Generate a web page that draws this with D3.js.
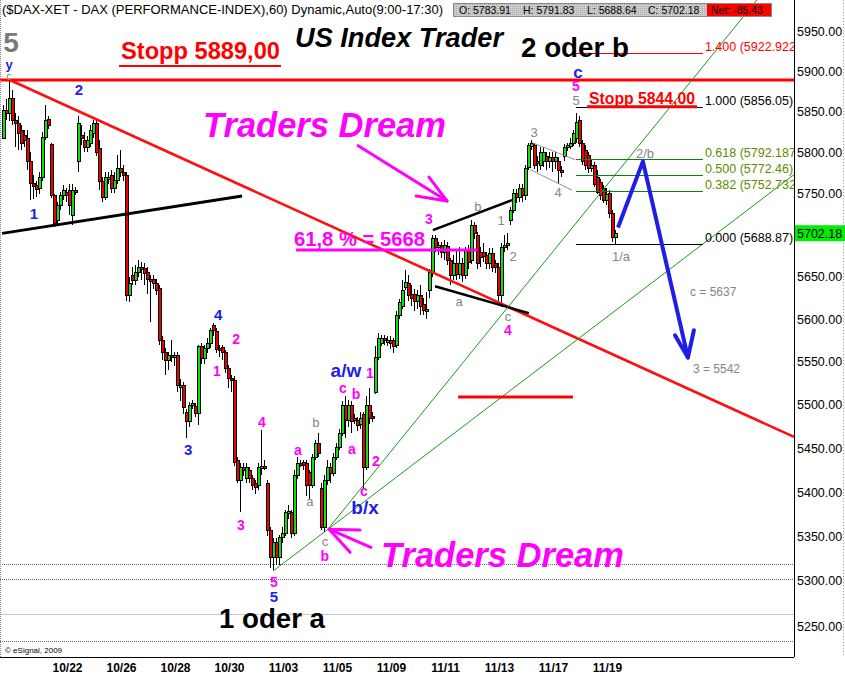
<!DOCTYPE html>
<html><head><meta charset="utf-8">
<script src="https://cdn.jsdelivr.net/npm/d3@7"></script>
<style>
html,body{margin:0;padding:0;background:#fff;}
svg{display:block;font-family:"Liberation Sans",Arial,sans-serif;}
</style></head><body>
<svg id="chart" width="845" height="675"></svg>
<script>
// ================= DATA =================
const headerText = "($DAX-XET - DAX (PERFORMANCE-INDEX),60) Dynamic,Auto(9:00-17:30)";
const quoteLabels = ["O: 5783.91", "H: 5791.83", "L: 5688.64", "C: 5702.18"];
const netLabel = "Net: -85.43";
const lastPrice = 5702.18;

const tradingDays = ["10/20","10/21","10/22","10/23","10/26","10/27","10/28","10/29","10/30",
  "11/02","11/03","11/04","11/05","11/06","11/09","11/10","11/11","11/12","11/13","11/16","11/17","11/18","11/19"];
const tickLabels = ["10/22","10/26","10/28","10/30","11/03","11/05","11/09","11/11","11/13","11/17","11/19"];
// 5700.00 is hidden behind the last-price marker in the reference
const priceTicks = [5950,5900,5850,5800,5750,5650,5600,5550,5500,5450,5400,5350,5300,5250];
const barsPerDay = 9;      // hourly bars 9:00-17:30
const firstBarOffset = 2;  // chart starts at the 3rd bar of 10/20

// hourly candles [open, high, low, close]
const bars = [
  // 10/20
  [5818,5858,5816,5852],[5852,5865,5840,5848],[5848,5889,5838,5867],[5867,5877,5833,5840],
  [5840,5848,5806,5836],[5836,5845,5803,5824],[5827,5833,5803,5812],
  // 10/21
  [5821,5827,5806,5815],[5818,5827,5779,5789],[5789,5800,5742,5763],[5763,5773,5744,5759],
  [5760,5765,5746,5755],[5757,5776,5750,5770],[5770,5825,5765,5819],[5819,5858,5815,5840],[5841,5845,5828,5833],
  // 10/22
  [5810,5812,5745,5748],[5748,5750,5710,5714],[5718,5740,5712,5736],[5736,5752,5730,5748],
  [5748,5760,5742,5754],[5752,5757,5740,5748],[5754,5761,5724,5736],[5724,5761,5712,5754],[5754,5758,5748,5752],
  // 10/23
  [5789,5845,5776,5836],[5821,5833,5809,5818],[5815,5825,5800,5806],[5806,5820,5800,5815],
  [5812,5833,5806,5827],[5824,5840,5818,5836],[5836,5842,5795,5800],[5805,5815,5754,5765],[5765,5770,5740,5746],
  // 10/26
  [5746,5776,5742,5770],[5768,5776,5762,5770],[5773,5779,5751,5757],[5757,5776,5751,5767],
  [5767,5797,5762,5781],[5781,5803,5770,5776],[5776,5785,5765,5773],[5773,5776,5622,5628],[5628,5650,5620,5643],
  // 10/27
  [5652,5662,5640,5646],[5646,5664,5640,5656],[5656,5670,5650,5662],[5662,5668,5646,5660],
  [5661,5667,5640,5655],[5656,5662,5630,5648],[5648,5652,5597,5646],[5648,5652,5636,5643],[5643,5648,5628,5634],
  // 10/28
  [5637,5640,5570,5575],[5575,5580,5552,5561],[5561,5566,5535,5552],[5552,5562,5540,5558],
  [5558,5575,5550,5557],[5557,5562,5545,5558],[5558,5562,5515,5523],[5521,5530,5505,5523],[5523,5527,5489,5497],
  // 10/29
  [5492,5495,5462,5481],[5481,5503,5475,5500],[5500,5506,5495,5502],[5499,5502,5486,5491],
  [5491,5570,5477,5568],[5568,5572,5548,5555],[5555,5570,5548,5566],[5566,5578,5560,5572],[5572,5590,5566,5587],
  // 10/30
  [5593,5596,5580,5587],[5586,5590,5560,5565],[5566,5570,5556,5564],[5567,5570,5552,5561],
  [5561,5564,5537,5543],[5543,5546,5520,5531],[5531,5535,5515,5529],[5529,5533,5430,5434],[5436,5440,5410,5414],
  // 11/02
  [5414,5433,5377,5429],[5429,5433,5418,5425],[5416,5433,5410,5429],[5425,5429,5410,5416],
  [5416,5420,5402,5408],[5410,5414,5398,5406],[5408,5433,5402,5428],[5428,5471,5420,5430],[5430,5436,5425,5429],
  // 11/03
  [5410,5414,5350,5357],[5357,5360,5315,5327],[5327,5348,5312,5344],[5344,5348,5318,5327],
  [5327,5352,5318,5349],[5349,5360,5343,5354],[5354,5380,5350,5377],[5376,5385,5370,5378],[5377,5380,5348,5354],
  // 11/04
  [5354,5425,5350,5420],[5420,5440,5415,5433],[5433,5436,5428,5432],[5434,5437,5425,5431],
  [5433,5436,5395,5408],[5423,5425,5392,5408],[5408,5443,5405,5440],[5440,5460,5436,5456],[5456,5468,5440,5445],
  // 11/05
  [5405,5410,5357,5360],[5360,5420,5355,5414],[5414,5436,5408,5428],[5429,5433,5410,5422],
  [5422,5445,5418,5440],[5440,5456,5436,5452],[5452,5472,5448,5468],[5468,5505,5464,5500],[5500,5510,5462,5483],
  // 11/06
  [5483,5506,5475,5500],[5500,5505,5468,5481],[5485,5490,5478,5483],[5483,5486,5470,5477],
  [5478,5492,5472,5485],[5489,5492,5405,5429],[5429,5510,5425,5500],[5500,5520,5478,5485],[5487,5492,5480,5485],
  // 11/09
  [5515,5568,5512,5556],[5556,5584,5552,5578],[5572,5582,5568,5578],[5578,5582,5570,5575],
  [5575,5580,5568,5576],[5576,5580,5565,5572],[5575,5578,5560,5568],[5570,5610,5566,5605],[5605,5624,5600,5620],
  // 11/10
  [5616,5646,5612,5634],[5638,5658,5634,5644],[5643,5652,5622,5628],[5630,5640,5616,5625],
  [5630,5636,5610,5622],[5622,5634,5612,5628],[5629,5640,5605,5615],[5618,5625,5605,5611],[5611,5632,5600,5612],
  // 11/11
  [5634,5660,5625,5656],[5656,5700,5650,5697],[5697,5700,5680,5686],[5686,5692,5676,5688],
  [5688,5692,5672,5680],[5680,5694,5670,5688],[5687,5692,5664,5670],[5670,5672,5640,5652],[5652,5676,5646,5666],
  // 11/12
  [5667,5682,5646,5654],[5654,5686,5648,5667],[5666,5672,5644,5652],[5652,5686,5648,5682],
  [5682,5688,5660,5668],[5670,5718,5665,5712],[5712,5716,5695,5702],[5700,5704,5660,5666],[5680,5686,5662,5674],
  // 11/13
  [5680,5690,5668,5675],[5676,5680,5660,5666],[5667,5684,5660,5679],[5678,5684,5656,5662],
  [5666,5670,5655,5662],[5662,5666,5622,5628],[5628,5690,5614,5686],[5686,5700,5680,5688],[5688,5702,5682,5690],
  // 11/16
  [5718,5734,5712,5730],[5730,5755,5726,5751],[5751,5755,5738,5746],[5746,5762,5740,5757],
  [5757,5761,5740,5748],[5748,5785,5742,5781],[5782,5812,5778,5809],[5808,5815,5803,5812],[5809,5812,5780,5785],
  // 11/17
  [5789,5795,5776,5788],[5785,5806,5778,5800],[5789,5806,5782,5800],[5795,5800,5778,5789],
  [5789,5800,5781,5794],[5794,5800,5776,5789],[5789,5800,5780,5794],[5789,5794,5762,5779],[5779,5783,5770,5778],
  // 11/18
  [5795,5810,5790,5806],[5806,5812,5802,5809],[5808,5818,5804,5812],[5812,5827,5808,5824],
  [5818,5848,5812,5837],[5840,5845,5806,5812],[5812,5815,5785,5789],[5803,5809,5779,5785],[5797,5800,5775,5781],
  // 11/19
  [5781,5792,5776,5785],[5785,5788,5758,5761],[5770,5779,5750,5752],[5764,5768,5742,5748],
  [5757,5760,5738,5742],[5742,5757,5736,5750],[5751,5754,5720,5726],[5726,5730,5692,5698],[5698,5706,5689,5702]
];

// horizontal reference levels (dotted / light)
const refLevels = [[5319,"dot"],[5302,"dot"],[5263,"light"],[5233,"dot"]];
const stopLevel = 5889;

// drawn lines: [bar, price] endpoints
const trendLines = [
  {pts:[[2.3,5889],[263.7,5463]], kind:"redTrend"},
  {pts:[[-0.3,5702],[79.7,5747]], kind:"blackThick"},
  {pts:[[143.3,5706],[169.7,5742]], kind:"black"},
  {pts:[[144,5639],[175.3,5607]], kind:"black"},
  {pts:[[90,5311],[263.7,5773]], kind:"green"},
  {pts:[[108.3,5358],[251.3,5989]], kind:"green"},
  {pts:[[176.3,5812],[190.7,5791]], kind:"gray"},
  {pts:[[175.7,5779],[189.7,5754]], kind:"gray"},
  {pts:[[151.7,5509],[190,5509]], kind:"redShort"},
  {pts:[[97.7,5682],[158,5682]], kind:"magentaLine"}
];
const arrows = [
  {path:[[118,5809],[148,5741]], head:[[137.7,5747],[142,5770]], kind:"magentaArrow"},
  {path:[[123,5337],[108.7,5358]], head:[[119,5357],[115.7,5332]], kind:"magentaArrow"},
  {path:[[205,5709],[213.3,5789],[228.3,5555]], head:[[224,5581],[230.3,5587]], kind:"blueArrow"}
];

// Fibonacci retracement
const fibLevels = [["1.400",5922.922],["1.000",5856.05],["0.618",5792.187],["0.500",5772.46],["0.382",5752.732],["0.000",5688.87]];
const fibSpan = [191, 233.3];

// Elliott wave labels [bar, price, text, style]
const waveLabels = [
  [2.7,5936,"5","grayBig"],[2,5909,"y","blueSmall"],[2,5894,"c","graySmall"],
  [10.3,5726,"1","blue"],[25.3,5877,"2","blue"],[61.7,5448,"3","blue"],[71.7,5606,"4","blue"],[90.3,5283,"5","blue"],
  [71.3,5539,"1","magenta"],[77.7,5577,"2","magenta"],[79.3,5363,"3","magenta"],[86.3,5480,"4","magenta"],[90.3,5299,"5","magenta"],
  [98.3,5448,"a","magenta"],[104.3,5480,"b","gray"],[102.3,5389,"a","gray"],[107.3,5344,"c","gray"],[107.3,5328,"b","magenta"],
  [114.3,5540,"a/w","blueBig"],[113.3,5519,"c","magenta"],[117.7,5513,"b","magenta"],[116.3,5449,"a","magenta"],
  [122.3,5537,"1","magenta"],[124.3,5435,"2","magenta"],[120.3,5401,"c","magenta"],[120.7,5383,"b/x","blueBig"],
  [142,5719,"3","magenta"],[158.3,5735,"b","gray"],[166,5718,"1","gray"],[170,5674,"2","gray"],
  [152,5621,"a","gray"],[168.3,5603,"c","gray"],[168.3,5587,"4","magenta"],
  [177,5824,"3","gray"],[185,5752,"4","gray"],
  [191.7,5899,"c","blueMid"],[191,5882,"5","magenta"],[191,5864,"5","gray"],
  [206,5675,"1/a","gray"],[214,5799,"2/b","gray"]
];
const targetLabels = [[229,5633,"c = 5637"],[230,5542,"3 = 5542"]];

// ================= DRAW =================
const W = 845, H = 675, plotRight = 794, plotBottom = 657;
const svg = d3.select("#chart");
const x = d3.scaleLinear().domain([0, 264]).range([3, 795]);
const y = d3.scaleLog().domain([5950, 5250]).range([31, 626]);

const defs = svg.append("defs");
defs.append("clipPath").attr("id","plotClip").append("rect").attr("x",0).attr("y",0).attr("width",plotRight).attr("height",plotBottom);
const pat = defs.append("pattern").attr("id","dots").attr("width",2).attr("height",2).attr("patternUnits","userSpaceOnUse");
pat.append("rect").attr("width",2).attr("height",2).attr("fill","#cdcdcd");
pat.append("rect").attr("width",1).attr("height",1).attr("fill","#a9a9a9");

svg.append("rect").attr("width",W).attr("height",H).attr("fill","#fff");

const plot = svg.append("g").attr("clip-path","url(#plotClip)");

// reference levels
plot.selectAll("line.ref").data(refLevels).join("line")
  .attr("x1",0).attr("x2",plotRight)
  .attr("y1",d=>Math.round(y(d[0]))+0.5).attr("y2",d=>Math.round(y(d[0]))+0.5)
  .attr("stroke",d=>d[1]==="light"?"#c8c8c8":"#666")
  .attr("stroke-dasharray",d=>d[1]==="light"?null:"1,1");

// left dotted edge
svg.append("line").attr("x1",0.5).attr("x2",0.5).attr("y1",0).attr("y2",plotBottom)
  .attr("stroke","#888").attr("stroke-dasharray","1,1");

// candles
const candle = plot.append("g").attr("shape-rendering","crispEdges")
  .selectAll("g").data(bars).join("g");
candle.append("line")
  .attr("x1",(d,i)=>x(i)+0.5).attr("x2",(d,i)=>x(i)+0.5)
  .attr("y1",d=>y(d[1])).attr("y2",d=>y(d[2]))
  .attr("stroke","#000").attr("stroke-width",1);
function bodyTop(d){return Math.round(y(Math.max(d[0],d[3])));}
function bodyH(d){return Math.max(2, Math.round(y(Math.min(d[0],d[3]))) - bodyTop(d));}
candle.append("rect")
  .attr("x",(d,i)=>x(i)-1).attr("y",bodyTop).attr("width",4).attr("height",d=>bodyH(d)+1)
  .attr("fill","#000");
candle.append("rect")
  .attr("x",(d,i)=>x(i)).attr("y",d=>bodyTop(d)+1).attr("width",2).attr("height",d=>Math.max(0,bodyH(d)-1))
  .attr("fill",d=>d[3]>=d[0]?"#10e010":"#ee0000");

// stop line
plot.append("line").attr("x1",0).attr("x2",plotRight)
  .attr("y1",y(stopLevel)).attr("y2",y(stopLevel)).attr("stroke","#ff0000").attr("stroke-width",3);

const lineStyle = {
  redTrend:{stroke:"#ff1010",w:2.6},
  blackThick:{stroke:"#000",w:3},
  black:{stroke:"#000",w:2.5},
  green:{stroke:"#1a9a1a",w:1},
  gray:{stroke:"#909090",w:1},
  redShort:{stroke:"#ff0000",w:3},
  magentaLine:{stroke:"#ff00ff",w:3},
  magentaArrow:{stroke:"#ff00ff",w:3},
  blueArrow:{stroke:"#1e1ee6",w:4}
};
const lineGen = d3.line().x(d=>x(d[0])).y(d=>y(d[1]));
plot.selectAll("path.trend").data(trendLines).join("path")
  .attr("d",d=>lineGen(d.pts)).attr("fill","none")
  .attr("stroke",d=>lineStyle[d.kind].stroke).attr("stroke-width",d=>lineStyle[d.kind].w);

// Fibonacci
const fibColor = r => r==="1.400" ? "#ff0000" : (r==="1.000"||r==="0.000") ? "#000" : "#0a820a";
const fibText = r => r==="1.400" ? "#ff0000" : (r==="1.000"||r==="0.000") ? "#000" : "#5c8c00";
plot.selectAll("line.fib").data(fibLevels).join("line")
  .attr("x1",x(fibSpan[0])).attr("x2",x(fibSpan[1]))
  .attr("y1",d=>Math.round(y(d[1]))+0.5).attr("y2",d=>Math.round(y(d[1]))+0.5)
  .attr("stroke",d=>fibColor(d[0])).attr("stroke-width",1);
plot.selectAll("text.fib").data(fibLevels).join("text")
  .attr("x",x(fibSpan[1])+2).attr("y",d=>y(d[1])-2)
  .attr("font-size",12.5).attr("fill",d=>fibText(d[0]))
  .text(d=>`${d[0]} (${d[1]})`);

// arrows
arrows.forEach(a=>{
  const st = lineStyle[a.kind];
  const tip = a.path[a.path.length-1];
  plot.append("path").attr("d",lineGen(a.path)).attr("fill","none")
    .attr("stroke",st.stroke).attr("stroke-width",st.w).attr("stroke-linejoin","round");
  a.head.forEach(h=>{
    plot.append("path").attr("d",lineGen([tip,h])).attr("fill","none")
      .attr("stroke",st.stroke).attr("stroke-width",st.w).attr("stroke-linecap","round");
  });
});

// wave labels
const labelStyle = {
  blue:{fill:"#1e1ee6",size:15,weight:"bold"},
  blueSmall:{fill:"#1e1ee6",size:13,weight:"bold"},
  blueBig:{fill:"#1e1ee6",size:19,weight:"bold"},
  blueMid:{fill:"#1e1ee6",size:17,weight:"bold"},
  magenta:{fill:"#ff00ff",size:14,weight:"bold"},
  gray:{fill:"#858585",size:13,weight:"normal"},
  graySmall:{fill:"#858585",size:11,weight:"normal"},
  grayBig:{fill:"#7a7a7a",size:28,weight:"bold"}
};
plot.selectAll("text.wave").data(waveLabels).join("text")
  .attr("x",d=>x(d[0])).attr("y",d=>y(d[1])).attr("dy","0.36em")
  .attr("text-anchor","middle")
  .attr("font-size",d=>labelStyle[d[3]].size).attr("font-weight",d=>labelStyle[d[3]].weight)
  .attr("fill",d=>labelStyle[d[3]].fill).text(d=>d[2]);
plot.selectAll("text.target").data(targetLabels).join("text")
  .attr("x",d=>x(d[0])).attr("y",d=>y(d[1])).attr("dy","0.36em")
  .attr("font-size",12).attr("fill","#858585").text(d=>d[2]);

// big annotations
function txt(s,px,py,opt){
  const t = svg.append("text").attr("x",px).attr("y",py).text(s)
    .attr("font-size",opt.size).attr("font-weight",opt.weight||"normal")
    .attr("font-style",opt.style||"normal").attr("fill",opt.fill||"#000");
  if(opt.len) t.attr("textLength",opt.len).attr("lengthAdjust","spacingAndGlyphs");
  return t;
}
txt("US Index Trader",295,47,{size:27.5,weight:"bold",style:"italic",len:208});
txt("2 oder b",521,57,{size:28,weight:"bold",len:108});
txt("1 oder a",219,628,{size:28,weight:"bold",len:106});
txt("Stopp 5889,00",121,59,{size:23,weight:"bold",fill:"#ff0000",len:159});
svg.append("line").attr("x1",119).attr("x2",281).attr("y1",66).attr("y2",66).attr("stroke","#ff0000").attr("stroke-width",2);
txt("Stopp 5844,00",589,104,{size:16,weight:"bold",fill:"#ff0000",len:106});
svg.append("line").attr("x1",587).attr("x2",697).attr("y1",y(5856.05)).attr("y2",y(5856.05)).attr("stroke","#ff0000").attr("stroke-width",3);
txt("Traders Dream",203,137,{size:34.5,weight:"bold",style:"italic",fill:"#ff00ff",len:243});
txt("Traders Dream",381,567,{size:34.5,weight:"bold",style:"italic",fill:"#ff00ff",len:243});
txt("61,8 % = 5668",294,246,{size:20,weight:"bold",fill:"#ff00ff",len:131});
txt("\u00A9 eSignal, 2009",5,653,{size:8,fill:"#000"});

// frame
svg.append("line").attr("x1",plotRight+0.5).attr("x2",plotRight+0.5).attr("y1",0).attr("y2",plotBottom).attr("stroke","#000");
svg.append("line").attr("x1",0).attr("x2",plotRight).attr("y1",plotBottom+0.5).attr("y2",plotBottom+0.5).attr("stroke","#000");
svg.append("line").attr("x1",843.5).attr("x2",843.5).attr("y1",0).attr("y2",plotBottom).attr("stroke","#999").attr("stroke-dasharray","1,2");

// right price axis
const yAxis = svg.append("g").attr("transform",`translate(${plotRight},0)`)
  .call(d3.axisRight(y).tickValues(priceTicks).tickFormat(d3.format(".2f")).tickSize(0).tickPadding(3));
yAxis.select(".domain").remove();
yAxis.selectAll("text").attr("font-size",12.5).attr("font-family","'Liberation Sans',Arial,sans-serif").attr("fill","#000");

// last price marker
const lp = svg.append("g").attr("transform",`translate(${plotRight+1},${y(lastPrice)})`);
lp.append("rect").attr("x",0).attr("y",-8).attr("width",W-plotRight-1).attr("height",16).attr("fill","#00ee00");
lp.append("text").attr("x",2).attr("dy","0.36em").attr("font-size",12.5).attr("fill","#000").text(d3.format(".2f")(lastPrice));

// date axis
const labelShift = 16/3;
const xAxis = svg.append("g").attr("transform",`translate(0,${plotBottom})`)
  .call(d3.axisBottom(x)
    .tickValues(tickLabels.map(l=>barsPerDay*tradingDays.indexOf(l)-firstBarOffset+labelShift))
    .tickFormat((d,i)=>tickLabels[i]).tickSize(0).tickPadding(6));
xAxis.select(".domain").remove();
xAxis.selectAll("text").attr("font-size",12).attr("font-weight","bold")
  .attr("font-family","'Liberation Sans',Arial,sans-serif").attr("fill","#000");

// header
txt(headerText,2,14,{size:13,len:441});
const qb = svg.append("g");
qb.append("rect").attr("x",453.5).attr("y",3.5).attr("width",318).attr("height",13).attr("fill","url(#dots)").attr("stroke","#8a8a8a");
qb.append("rect").attr("x",707).attr("y",4).attr("width",64).attr("height",12).attr("fill","#ff0000");
const qx = [459,523,587,648];
quoteLabels.forEach((q,i)=>txt(q,qx[i],14,{size:10.5}));
txt(netLabel,711,14,{size:10.5});
</script>
</body></html>
